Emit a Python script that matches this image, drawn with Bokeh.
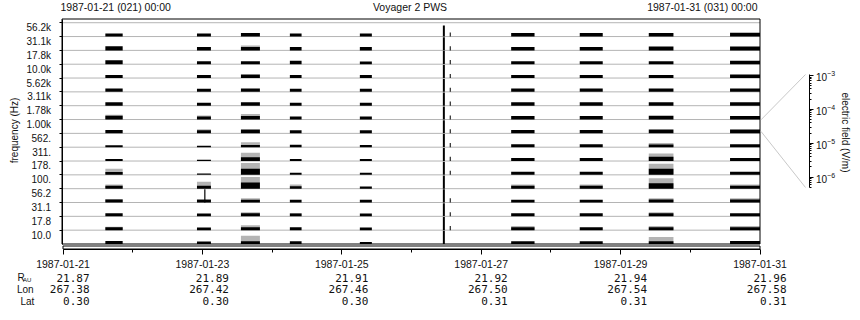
import math
import datetime as dt
from bokeh.plotting import figure
from bokeh.models import Range1d, FixedTicker, LogAxis, LogScale
from bokeh.core.properties import value
from bokeh.embed import file_html
from bokeh.resources import INLINE

# ---------------- data ----------------
channels = ["10.0", "17.8", "31.1", "56.2", "100.", "178.", "311.", "562.",
            "1.00k", "1.78k", "3.11k", "5.62k", "10.0k", "17.8k", "31.1k", "56.2k"]

tick_dates = ["1987-01-21", "1987-01-23", "1987-01-25", "1987-01-27", "1987-01-29", "1987-01-31"]
minor_dates = ["1987-01-22", "1987-01-24", "1987-01-26", "1987-01-28", "1987-01-30"]
r_au = ["21.87", "21.89", "21.91", "21.92", "21.94", "21.96"]
lon = ["267.38", "267.42", "267.46", "267.50", "267.54", "267.58"]
lat = ["0.30", "0.30", "0.30", "0.31", "0.31", "0.31"]
row_names = ["R", "Lon", "Lat"]

header_left = "1987-01-21 (021) 00:00"
header_mid = "Voyager 2 PWS"
header_right = "1987-01-31 (031) 00:00"

block_start = ["1987-01-21 14:35", "1987-01-22 22:08", "1987-01-23 13:16", "1987-01-24 06:07",
               "1987-01-25 06:13", "1987-01-26 10:48", "1987-01-26 13:10", "1987-01-27 10:19",
               "1987-01-28 09:56", "1987-01-29 09:42", "1987-01-30 13:41"]
block_end = ["1987-01-21 20:33", "1987-01-23 02:56", "1987-01-23 19:48", "1987-01-24 10:09",
             "1987-01-25 10:21", "1987-01-26 11:29", "1987-01-26 13:31", "1987-01-27 18:22",
             "1987-01-28 17:51", "1987-01-29 18:12", "1987-01-31 00:00"]

# black (average) level per block, channels bottom (10.0 Hz) to top (56.2 kHz), in band units
black_levels = [
    [0.22, 0.22, 0.22, 0.22, 0.22, 0.20, 0.14, 0.14, 0.25, 0.28, 0.25, 0.25, 0.22, 0.28, 0.30, 0.22],
    [0.18, 0.20, 0.20, 0.20, 0.22, 0.10, 0.10, 0.10, 0.22, 0.22, 0.22, 0.22, 0.22, 0.22, 0.25, 0.22],
    [0.20, 0.22, 0.22, 0.20, 0.45, 0.45, 0.28, 0.15, 0.28, 0.25, 0.25, 0.25, 0.25, 0.22, 0.25, 0.25],
    [0.20, 0.22, 0.20, 0.20, 0.18, 0.15, 0.15, 0.18, 0.22, 0.22, 0.22, 0.22, 0.22, 0.25, 0.25, 0.22],
    [0.15, 0.20, 0.20, 0.20, 0.15, 0.15, 0.15, 0.15, 0.22, 0.22, 0.22, 0.22, 0.22, 0.20, 0.25, 0.22],
    [0.95, 0.95, 0.95, 0.95, 0.95, 0.95, 0.95, 0.95, 0.95, 0.95, 0.95, 0.95, 0.95, 0.95, 0.95, 0.80],
    [0.00, 0.30, 0.30, 0.30, 0.00, 0.30, 0.30, 0.30, 0.30, 0.30, 0.30, 0.30, 0.30, 0.30, 0.30, 0.30],
    [0.20, 0.22, 0.22, 0.20, 0.22, 0.22, 0.22, 0.22, 0.25, 0.25, 0.25, 0.25, 0.22, 0.22, 0.25, 0.25],
    [0.20, 0.22, 0.22, 0.20, 0.22, 0.22, 0.22, 0.22, 0.25, 0.25, 0.25, 0.25, 0.22, 0.22, 0.25, 0.25],
    [0.20, 0.22, 0.22, 0.22, 0.40, 0.45, 0.30, 0.20, 0.28, 0.28, 0.25, 0.25, 0.22, 0.22, 0.28, 0.25],
    [0.22, 0.22, 0.22, 0.22, 0.22, 0.22, 0.22, 0.22, 0.28, 0.25, 0.25, 0.25, 0.25, 0.25, 0.28, 0.28],
]
# grey (peak) level per block
gray_levels = [
    [0.00, 0.25, 0.00, 0.25, 0.30, 0.45, 0.00, 0.00, 0.00, 0.35, 0.00, 0.00, 0.00, 0.00, 0.00, 0.00],
    [0.00, 0.00, 0.00, 0.25, 0.50, 0.00, 0.00, 0.00, 0.30, 0.30, 0.00, 0.00, 0.00, 0.00, 0.00, 0.00],
    [0.60, 0.35, 0.30, 0.30, 0.85, 0.85, 0.60, 0.35, 0.00, 0.40, 0.00, 0.00, 0.00, 0.00, 0.35, 0.00],
    [0.00, 0.00, 0.25, 0.00, 0.30, 0.00, 0.00, 0.00, 0.00, 0.00, 0.00, 0.00, 0.00, 0.00, 0.00, 0.00],
    [0.00, 0.00, 0.00, 0.00, 0.00, 0.00, 0.00, 0.00, 0.00, 0.00, 0.00, 0.00, 0.00, 0.00, 0.00, 0.00],
    [0.00] * 16,
    [0.00] * 16,
    [0.00, 0.30, 0.00, 0.00, 0.30, 0.00, 0.00, 0.00, 0.00, 0.00, 0.00, 0.00, 0.00, 0.00, 0.00, 0.00],
    [0.00, 0.00, 0.00, 0.00, 0.30, 0.00, 0.00, 0.00, 0.00, 0.00, 0.00, 0.00, 0.00, 0.00, 0.00, 0.00],
    [0.50, 0.30, 0.30, 0.30, 0.75, 0.80, 0.55, 0.30, 0.00, 0.00, 0.00, 0.00, 0.00, 0.00, 0.00, 0.00],
    [0.00, 0.30, 0.00, 0.30, 0.30, 0.00, 0.00, 0.00, 0.00, 0.00, 0.00, 0.00, 0.00, 0.00, 0.00, 0.00],
]
# isolated bursts: time, channel index, level
burst_time = ["1987-01-23 00:38"]
burst_channel = [3]
burst_level = [0.95]

# electric-field scale (V/m)
ef_major = [1e-6, 1e-5, 1e-4, 1e-3]

# ---------------- geometry ----------------
EPOCH = dt.datetime(1970, 1, 1)


def ms(s):
    fmt = "%Y-%m-%d %H:%M" if " " in s else "%Y-%m-%d"
    return (dt.datetime.strptime(s, fmt) - EPOCH).total_seconds() * 1000.0


DAY = 86400000.0
PX = DAY / 69.7          # ms per pixel
T0 = ms(tick_dates[0])   # canvas x = 62.5
T1 = ms(tick_dates[-1])
X0 = 62.5
UNIT = 13.83             # pixels per channel band
Y0 = 243.5               # canvas y of the lowest band's base
W, H = 860, 320
FONT = "Liberation Sans"
MONO = "DejaVu Sans Mono"
TXT = "#111111"
GREY = "#b4b4b4"


def xd(px):
    return T0 + (px - X0) * PX


def yd(py):
    return (Y0 - py) / UNIT


p = figure(width=W, height=H, x_axis_type="datetime",
           x_range=Range1d(xd(0), xd(W)), y_range=Range1d(yd(H), yd(0)),
           output_backend="svg", toolbar_location=None, min_border=0)
p.outline_line_color = None
p.grid.visible = False

n = len(channels)
p.segment(x0=[T0] * n, x1=[T1] * n, y0=[i + 1 for i in range(n)], y1=[i + 1 for i in range(n)],
          line_color=GREY, line_width=1)

gl, gr, gb, gt = [], [], [], []
bl, br, bb, bt = [], [], [], []
for b in range(len(block_start)):
    s, e = ms(block_start[b]), ms(block_end[b])
    for c in range(n):
        if gray_levels[b][c] > 0:
            gl.append(s); gr.append(e); gb.append(c); gt.append(c + gray_levels[b][c])
        if black_levels[b][c] > 0:
            bl.append(s); br.append(e); bb.append(c); bt.append(c + black_levels[b][c])
for k in range(len(burst_time)):
    s = ms(burst_time[k])
    bl.append(s); br.append(s + 1.2 * PX)
    bb.append(burst_channel[k]); bt.append(burst_channel[k] + burst_level[k])

p.quad(left=gl, right=gr, bottom=gb, top=gt, fill_color=GREY, line_color=None)
p.quad(left=bl, right=br, bottom=bb, top=bt, fill_color="black", line_color=None)

# frame of the spectrum panel and the thin strip under it
p.quad(left=[xd(61.5)], right=[T1], bottom=[0], top=[yd(18.5)], fill_color=None,
       line_color="black", line_width=1)
p.quad(left=[T0], right=[T1], bottom=[yd(248.5)], top=[yd(245.5)], fill_color=None,
       line_color="black", line_width=1)

# connectors from the 1.00k band to the field scale
p.segment(x0=[xd(760.5)] * 2, x1=[xd(805)] * 2, y0=[8.98, 8.14], y1=[yd(74), yd(187)],
          line_color="#c8c8c8", line_width=1)

# ---- frequency axis
yax = p.yaxis[0]
yax.fixed_location = xd(61.5)
yax.ticker = FixedTicker(ticks=[i + 0.64 for i in range(n)], minor_ticks=[i + 1 for i in range(n)])
yax.major_label_overrides = {i + 0.64: channels[i] for i in range(n)}
yax.bounds = (0, yd(18.5))
yax.major_tick_out = 0
yax.major_tick_in = 0
yax.minor_tick_out = 3
yax.minor_tick_in = 0
yax.major_label_text_font = FONT
yax.major_label_text_font_size = "10px"
yax.major_label_text_color = TXT
yax.major_label_standoff = 8

# ---- time axis
xax = p.xaxis[0]
xax.fixed_location = yd(248.5)
xax.ticker = FixedTicker(ticks=[ms(d) for d in tick_dates], minor_ticks=[ms(d) for d in minor_dates])
xax.major_label_overrides = {ms(d): d for d in tick_dates}
xax.bounds = (T0, T1)
xax.major_tick_out = 5
xax.major_tick_in = 0
xax.minor_tick_out = 3
xax.minor_tick_in = 0
xax.major_label_text_font = FONT
xax.major_label_text_font_size = "10.5px"
xax.major_label_text_color = TXT
xax.major_label_standoff = 6

# ---- electric field scale
DEC = 33.9  # px per decade
p.extra_y_ranges = {"ef": Range1d(10 ** (-3 - (H - 75) / DEC), 10 ** (-3 + 75 / DEC))}
p.extra_y_scales = {"ef": LogScale()}
minors = []
for dec in range(-7, -3):
    for m in range(2, 10):
        v = m * 10.0 ** dec
        if 5e-7 <= v <= 1e-3:
            minors.append(v)
efax = LogAxis(y_range_name="ef", fixed_location=xd(808.5), bounds=(5e-7, 1.07e-3),
               ticker=FixedTicker(ticks=ef_major, minor_ticks=minors),
               major_tick_in=0, major_tick_out=4, minor_tick_in=0, minor_tick_out=2,
               major_label_text_font=FONT, major_label_text_font_size="10px",
               major_label_text_color=TXT, major_label_standoff=3)
p.add_layout(efax, "right")

# ---- axis titles
p.text(x=[xd(14)], y=[yd(130)], text=["frequency (Hz)"], angle=math.pi / 2, text_align="center",
       text_baseline="middle", text_font=value(FONT), text_font_size="10px", text_color=TXT)
p.text(x=[xd(845)], y=[yd(132)], text=["electric field (V/m)"], angle=-math.pi / 2,
       text_align="center", text_baseline="middle", text_font=value(FONT), text_font_size="10px",
       text_color=TXT)

# ---- header
hy = yd(6.8)
p.text(x=[T0], y=[hy], text=[header_left], x_offset=-2.5, text_align="left",
       text_baseline="middle", text_font=value(FONT), text_font_size="10.5px", text_color=TXT)
p.text(x=[T0 + 5 * DAY], y=[hy], text=[header_mid], x_offset=-1.5, text_align="center",
       text_baseline="middle", text_font=value(FONT), text_font_size="10.5px", text_color=TXT)
p.text(x=[T1], y=[hy], text=[header_right], x_offset=-2.5, text_align="right",
       text_baseline="middle", text_font=value(FONT), text_font_size="10.5px", text_color=TXT)

# ---- orbit rows
rows = [r_au, lon, lat]
row_py = [277.0, 288.7, 300.5]
for r in range(3):
    p.text(x=[ms(d) for d in tick_dates], y=[yd(row_py[r])] * len(tick_dates), text=rows[r],
           x_offset=26.5, text_align="right", text_baseline="middle",
           text_font=value(MONO), text_font_size="11px", text_color=TXT)
name_px = [17, 16.5, 20]
for r in range(3):
    p.text(x=[xd(name_px[r])], y=[yd(row_py[r])], text=[row_names[r]], text_align="left",
           text_baseline="middle", text_font=value(FONT), text_font_size="10px", text_color=TXT)
p.text(x=[xd(22.5)], y=[yd(row_py[0] + 2)], text=["AU"], text_align="left",
       text_baseline="middle", text_font=value(FONT), text_font_size="6px", text_color=TXT)

open("out.html", "w").write(file_html(p, INLINE))
